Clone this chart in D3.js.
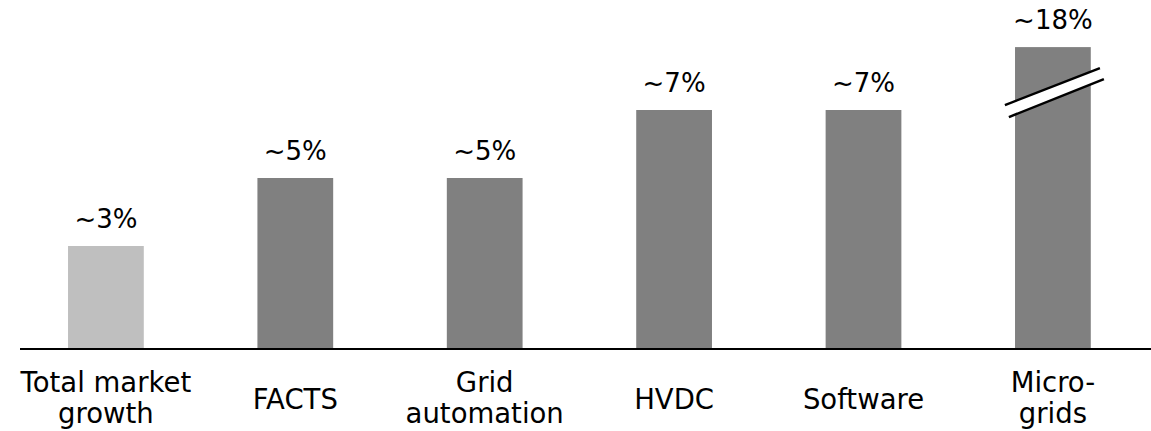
<!DOCTYPE html>
<html>
<head>
<meta charset="utf-8">
<script src="https://cdn.jsdelivr.net/npm/d3@7"></script>
<style>
  html, body { margin: 0; padding: 0; background: #fff; }
  svg { display: block; }
  text { font-family: "DejaVu Sans", sans-serif; fill: #000; }
</style>
</head>
<body>
<svg id="chart" width="1151" height="431"></svg>
<script>
// ---- data ----
const categories = ["Total market growth", "FACTS", "Grid automation", "HVDC", "Software", "Micro-grids"];
const categoryLines = [["Total market", "growth"], ["FACTS"], ["Grid", "automation"], ["HVDC"], ["Software"], ["Micro-", "grids"]];
const values = [3, 5, 5, 7, 7, 18];
const valueLabels = ["~3%", "~5%", "~5%", "~7%", "~7%", "~18%"];
const barColors = ["#bfbfbf", "#808080", "#808080", "#808080", "#808080", "#808080"];

// ---- layout ----
const W = 1151, H = 431;
const baseY = 348;
const breakCap = 8.85; // values above this are drawn truncated with a break mark

const svg = d3.select("#chart");

const x = d3.scaleBand()
  .domain(categories)
  .range([11.2, 1147.6])
  .paddingInner(0.6)
  .paddingOuter(0.3);

const y = d3.scaleLinear()
  .domain([0, 10])
  .range([baseY, baseY - 340]);

const data = categories.map((c, i) => ({
  cat: c, value: values[i], label: valueLabels[i], color: barColors[i],
  lines: categoryLines[i], shown: Math.min(values[i], breakCap), broken: values[i] > breakCap
}));

// bars
svg.append("g").selectAll("rect")
  .data(data).join("rect")
  .attr("x", d => x(d.cat))
  .attr("y", d => y(d.shown))
  .attr("width", x.bandwidth())
  .attr("height", d => y(0) - y(d.shown))
  .attr("fill", d => d.color);

// value labels
svg.append("g").selectAll("text")
  .data(data).join("text")
  .attr("x", d => x(d.cat) + x.bandwidth() / 2)
  .attr("y", d => y(d.shown) - 18)
  .attr("text-anchor", "middle")
  .style("font-size", "26px")
  .text(d => d.label);

// break marks
data.filter(d => d.broken).forEach(d => {
  const cx = x(d.cat) + x.bandwidth() / 2;
  const topY = y(d.shown);
  const l1 = [[cx - 48, topY + 58], [cx + 47, topY + 21]];
  const l2 = [[cx - 44, topY + 70], [cx + 51, topY + 32]];
  const g = svg.append("g");
  g.append("path")
    .attr("d", `M${l1[0]}L${l1[1]}L${l2[1]}L${l2[0]}Z`)
    .attr("fill", "#fff");
  [l1, l2].forEach(l => {
    g.append("line")
      .attr("x1", l[0][0]).attr("y1", l[0][1])
      .attr("x2", l[1][0]).attr("y2", l[1][1])
      .attr("stroke", "#000").attr("stroke-width", 2.5);
  });
});

// baseline
svg.append("line")
  .attr("x1", 20).attr("x2", W)
  .attr("y1", y(0) + 1).attr("y2", y(0) + 1)
  .attr("stroke", "#000").attr("stroke-width", 2.2);

// category axis labels
const axis = d3.axisBottom(x).tickSize(0).tickFormat("");
const ax = svg.append("g").attr("transform", `translate(0,${baseY})`).call(axis);
ax.select(".domain").remove();
ax.selectAll(".tick").each(function(c, i) {
  const lines = categoryLines[i];
  const g = d3.select(this);
  const lh = 31;
  const first = lines.length === 1 ? 61 : 44;
  lines.forEach((s, k) => {
    g.append("text")
      .attr("text-anchor", "middle")
      .style("font-size", "27.5px")
      .attr("fill", "#000")
      .attr("x", 0).attr("y", first + k * lh)
      .text(s);
  });
});
</script>
</body>
</html>
